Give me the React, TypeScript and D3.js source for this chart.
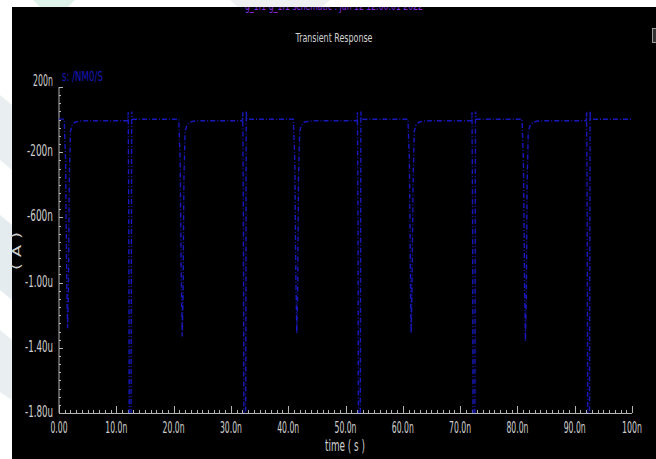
import * as d3 from "d3";
import React from "react";

// Transient response of the NMOS source current, values in ns / nA
const xTickValues = [0, 10, 20, 30, 40, 50, 60, 70, 80, 90, 100];
const xTickLabels = ["0.00", "10.0n", "20.0n", "30.0n", "40.0n", "50.0n", "60.0n", "70.0n", "80.0n", "90.0n", "100n"];
const yTickValues = [200, -200, -600, -1000, -1400, -1800];
const yTickLabels = ["200n", "-200n", "-600n", "-1.00u", "-1.40u", "-1.80u"];

const nmosSourceCurrent: [number, number][] = [
    [0, 3], [0.9, 3], [1.15, -250], [1.35, -1000], [1.5, -1280], [1.65, -1050], [1.8, -350], [2.0, -70], [2.3, -35], [2.8, -16], [3.6, -9], [5.0, -7],
    [12.0, -7], [12.08, 45], [12.18, -600], [12.3, -2400], [12.55, -2400], [12.68, 50], [12.78, 2],
    [20.9, 2], [21.15, -250], [21.35, -1000], [21.5, -1330], [21.65, -1080], [21.8, -380], [22.0, -75], [22.3, -38], [22.8, -17], [23.6, -9], [25.0, -7],
    [32.0, -7], [32.08, 45], [32.18, -600], [32.3, -2400], [32.55, -2400], [32.68, 50], [32.78, 2],
    [40.9, 2], [41.15, -250], [41.35, -1000], [41.5, -1310], [41.65, -1060], [41.8, -360], [42.0, -72], [42.3, -36], [42.8, -16], [43.6, -9], [45.0, -7],
    [52.0, -7], [52.08, 45], [52.18, -600], [52.3, -2400], [52.55, -2400], [52.68, 50], [52.78, 2],
    [60.9, 2], [61.15, -250], [61.35, -1000], [61.45, -1310], [61.6, -1060], [61.8, -360], [62.0, -72], [62.3, -36], [62.8, -16], [63.6, -9], [65.0, -7],
    [72.0, -7], [72.08, 45], [72.18, -600], [72.3, -2400], [72.55, -2400], [72.68, 50], [72.78, 2],
    [80.8, 2], [81.05, -250], [81.25, -1000], [81.4, -1360], [81.55, -1100], [81.7, -380], [81.9, -75], [82.2, -38], [82.7, -17], [83.5, -9], [85.0, -7],
    [92.0, -7], [92.08, 45], [92.18, -600], [92.3, -2400], [92.55, -2400], [92.68, 50], [92.78, 2],
    [100, 2],
];

const W = 656;
const H = 459;
const axisColor = "#b4b4b4";
const textColor = "#d0d0d0";
const traceColor = "#1818bc";
const font = "DejaVu Sans, sans-serif";

// squeezed width for the narrow plotter font
const narrow = (s: string) =>
    s.split("").reduce((w, c) => w + (c === "." ? 2 : c === "-" ? 6 : c === " " ? 3 : 5), 0);

export default function App() {
    const x = d3.scaleLinear().domain([0, 100]).range([59, 632]);
    const y = d3.scaleLinear().domain([-1800, 200]).range([413, 87]);

    const line = d3
        .line<[number, number]>()
        .x(d => x(d[0]))
        .y(d => y(d[1]));

    const xMinor = d3.range(0, 101, 1).filter(v => v % 10 !== 0);
    const yMinor = d3.range(-1800, 201, 50).filter(v => (v + 1800) % 400 !== 0);

    const [x0, x1] = x.range();
    const [yb, yt] = y.range();

    return (
        <svg width={W} height={H} style={{position: "absolute", left: 0, top: 0, background: "#000"}}>
            <defs>
                <clipPath id="plot">
                    <rect x={x0} y={0} width={x1 - x0 + 2} height={yb} />
                </clipPath>
            </defs>
            <rect x={0} y={0} width={W} height={H} fill="#000" />

            {/* header, mostly hidden behind the page band */}
            <text x={334} y={10} fill="#8a2be2" fontFamily={font} fontSize={12} textAnchor="middle"
                  textLength={178} lengthAdjust="spacingAndGlyphs">
                g_1f1 g_1f1 schematic : Jun 12 12:00:01 2022
            </text>

            {/* page margin with faint watermark */}
            <rect x={0} y={0} width={W} height={7} fill="#fff" />
            <rect x={0} y={0} width={12} height={H} fill="#fff" />
            <polygon points="33,0 75,0 68,7 40,7" fill="#dff3ea" />
            <polygon points="230,0 330,0 322,7 238,7" fill="#eef0f2" />
            <polygon points="0,95 12,105 12,170 0,160" fill="#e9eef0" />
            <polygon points="0,215 12,225 12,300 0,290" fill="#e4ecf0" />
            <polygon points="0,330 12,340 12,400 0,392" fill="#e9eef0" />

            <text x={334} y={42} fill={textColor} fontFamily={font} fontSize={13} textAnchor="middle"
                  textLength={77} lengthAdjust="spacingAndGlyphs">Transient Response</text>
            <rect x={652.5} y={28.5} width={5} height={14} fill="#333" stroke="#9a9a9a" />

            {/* legend */}
            <text x={62} y={81} fill={traceColor} fontFamily={font} fontSize={14}
                  textLength={41} lengthAdjust="spacingAndGlyphs">s: /NM0/S</text>

            {/* y axis */}
            <line x1={x0} x2={x0} y1={yt} y2={yb} stroke={axisColor} />
            {yMinor.map(v => (
                <line key={"ym" + v} x1={x0} x2={x0 + 2} y1={Math.round(y(v)) + 0.5} y2={Math.round(y(v)) + 0.5} stroke={axisColor} />
            ))}
            {yTickValues.map((v, i) => (
                <g key={"yt" + v}>
                    <line x1={x0} x2={x0 + 4} y1={Math.round(y(v)) + 0.5} y2={Math.round(y(v)) + 0.5} stroke={axisColor} />
                    <text x={53} y={y(v) + (i === 0 ? -1 : 4)} fill={textColor} fontFamily={font} fontSize={15}
                          textAnchor="end" textLength={narrow(yTickLabels[i])} lengthAdjust="spacingAndGlyphs">
                        {yTickLabels[i]}
                    </text>
                </g>
            ))}
            <text transform={`translate(21,251) rotate(-90)`} fill={textColor} fontFamily={font} fontSize={13}
                  textAnchor="middle" textLength={38} lengthAdjust="spacingAndGlyphs">( A )</text>

            {/* x axis */}
            <line x1={x0} x2={x1} y1={yb + 0.5} y2={yb + 0.5} stroke={axisColor} />
            {xMinor.map(v => (
                <line key={"xm" + v} x1={Math.round(x(v)) + 0.5} x2={Math.round(x(v)) + 0.5} y1={yb} y2={yb - 3} stroke={axisColor} />
            ))}
            {xTickValues.map((v, i) => (
                <g key={"xt" + v}>
                    <line x1={Math.round(x(v)) + 0.5} x2={Math.round(x(v)) + 0.5} y1={yb} y2={yb - 7} stroke={axisColor} />
                    <text x={x(v)} y={433} fill={textColor} fontFamily={font} fontSize={15} textAnchor="middle"
                          textLength={narrow(xTickLabels[i])} lengthAdjust="spacingAndGlyphs">
                        {xTickLabels[i]}
                    </text>
                </g>
            ))}
            <text x={345} y={451} fill={textColor} fontFamily={font} fontSize={15} textAnchor="middle"
                  textLength={40} lengthAdjust="spacingAndGlyphs">time ( s )</text>

            {/* trace */}
            <path d={line(nmosSourceCurrent) ?? ""} fill="none" stroke={traceColor} strokeWidth={1.4}
                  strokeDasharray="5,2,1,2" clipPath="url(#plot)" />
        </svg>
    );
}
